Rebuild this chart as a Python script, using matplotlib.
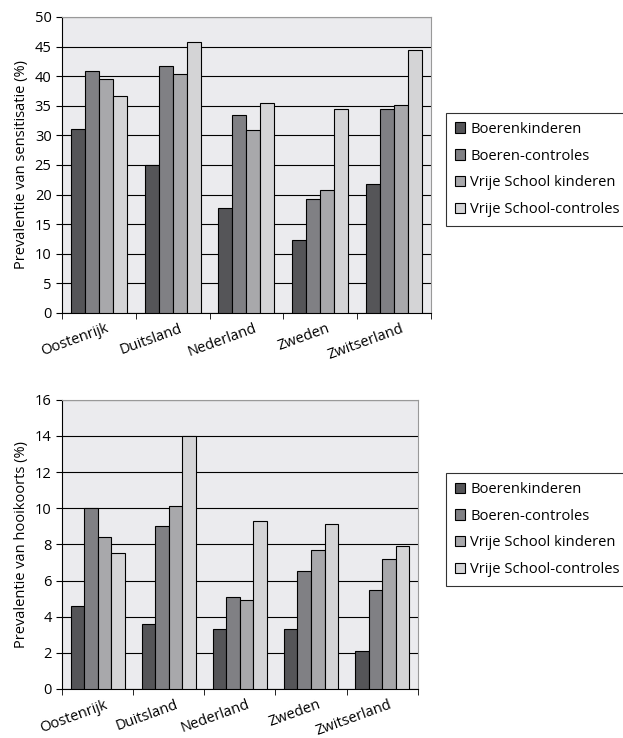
import numpy as np
import matplotlib.pyplot as plt
import matplotlib.transforms as mtrans
from matplotlib.ticker import MultipleLocator, FixedLocator

plt.rcParams['font.family'] = ['Open Sans', 'DejaVu Sans']

landen = ['Oostenrijk', 'Duitsland', 'Nederland', 'Zweden', 'Zwitserland']
groepen = ['Boerenkinderen', 'Boeren-controles', 'Vrije School kinderen', 'Vrije School-controles']
kleuren = ['#555558', '#808084', '#a8a8ab', '#d4d4d6']

# sensitisatie (%)
sens_boer = [31.1, 25.0, 17.7, 12.4, 21.8]
sens_boer_ctrl = [40.9, 41.8, 33.5, 19.3, 34.4]
sens_vs = [39.5, 40.4, 30.9, 20.7, 35.2]
sens_vs_ctrl = [36.7, 45.7, 35.5, 34.4, 44.5]

# hooikoorts (%)
hooi_boer = [4.6, 3.6, 3.3, 3.3, 2.1]
hooi_boer_ctrl = [10.0, 9.0, 5.1, 6.5, 5.5]
hooi_vs = [8.4, 10.1, 4.9, 7.7, 7.2]
hooi_vs_ctrl = [7.5, 14.0, 9.3, 9.1, 7.9]

fig = plt.figure(figsize=(6.23, 7.38), dpi=100)
ax1 = fig.add_axes([0.0995, 0.576, 0.592, 0.401])
ax2 = fig.add_axes([0.0995, 0.0664, 0.571, 0.392])


def teken(ax, reeksen, ymax, stap, ylabel, legend_y):
    x = np.arange(len(landen))
    w = 0.19
    handles = []
    for i, (vals, kl) in enumerate(zip(reeksen, kleuren)):
        b = ax.bar(x + (i - 1.5) * w, vals, w, color=kl, edgecolor='black',
                   linewidth=0.8, zorder=3, label=groepen[i])
        handles.append(b)
    ax.set_facecolor('#ebebee')
    ax.set_xlim(-0.5, len(landen) - 0.5)
    ax.set_ylim(0, ymax)
    ax.yaxis.set_major_locator(MultipleLocator(stap))
    ax.grid(axis='y', color='black', linewidth=0.8, zorder=1)
    ax.set_xticks(x)
    ax.set_xticklabels(landen, rotation=20, ha='right', rotation_mode='anchor')
    ax.tick_params(axis='x', which='major', length=0, pad=6, labelsize=10.5)
    ax.xaxis.set_minor_locator(FixedLocator(np.arange(-0.5, len(landen), 1.0)))
    ax.tick_params(axis='x', which='minor', length=4, direction='out')
    ax.tick_params(axis='y', length=4, direction='out', labelsize=10.5)
    for s in ['top', 'right']:
        ax.spines[s].set_color('#999999')
    ax.spines['left'].set_color('black')
    ax.spines['bottom'].set_color('black')
    ax.set_ylabel(ylabel, fontsize=10.5)
    # labels iets naar rechts schuiven
    offset = mtrans.ScaledTranslation(5 / 72, 0, fig.dpi_scale_trans)
    for lbl in ax.get_xticklabels():
        lbl.set_transform(lbl.get_transform() + offset)
    leg = fig.legend(handles=handles, loc='upper left', bbox_to_anchor=(0.716, legend_y),
                     fontsize=10.6, frameon=True, fancybox=False, edgecolor='black',
                     handlelength=0.7, handleheight=0.7, handletextpad=0.35,
                     labelspacing=0.8, borderpad=0.6, borderaxespad=0)
    leg.get_frame().set_linewidth(0.8)


teken(ax1, [sens_boer, sens_boer_ctrl, sens_vs, sens_vs_ctrl], 50, 5,
      'Prevalentie van sensitisatie (%)', 0.847)
teken(ax2, [hooi_boer, hooi_boer_ctrl, hooi_vs, hooi_vs_ctrl], 16, 2,
      'Prevalentie van hooikoorts (%)', 0.359)

fig.savefig('out.png', dpi=100)
